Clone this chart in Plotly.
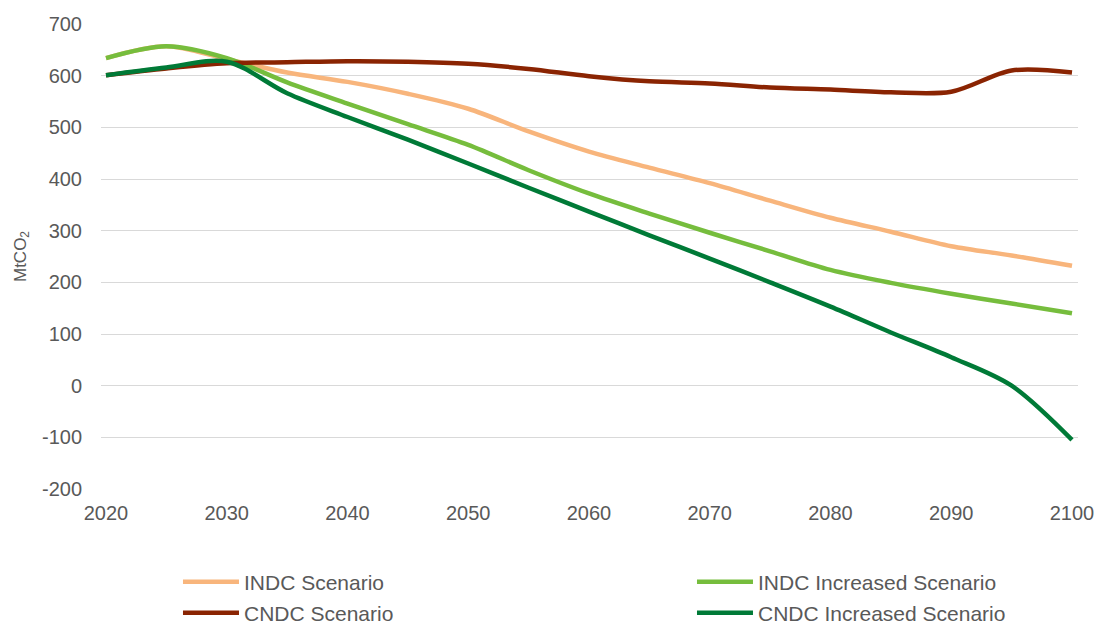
import plotly.graph_objects as go

# Emission pathways, MtCO2, in five-year steps
years = [2020, 2025, 2030, 2035, 2040, 2045, 2050, 2055, 2060,
         2065, 2070, 2075, 2080, 2085, 2090, 2095, 2100]

indc = [634, 657, 632, 606, 588, 565, 536, 492, 453,
        422, 392, 358, 325, 298, 270, 252, 232]
indc_increased = [634, 657, 634, 587, 546, 506, 466, 417, 372,
                  333, 296, 260, 224, 199, 178, 159, 140]
cndc = [601, 614, 624, 626, 628, 627, 623, 613, 599,
        589, 585, 577, 573, 568, 569, 610, 606]
cndc_increased = [601, 616, 627, 566, 520, 476, 430, 383, 337,
                  291, 246, 200, 153, 103, 55, 0, -105]

series_names = ["INDC Scenario", "INDC Increased Scenario",
                "CNDC Scenario", "CNDC Increased Scenario"]
series_values = [indc, indc_increased, cndc, cndc_increased]
series_colors = ["#F8B57C", "#76BD3D", "#8A2402", "#007A37"]

x_ticks = [2020, 2030, 2040, 2050, 2060, 2070, 2080, 2090, 2100]
y_ticks = [-200, -100, 0, 100, 200, 300, 400, 500, 600, 700]
y_tick_text = [str(v) for v in y_ticks]

FONT = "Liberation Sans, Arial, sans-serif"
GREY = "#595959"

# one legend box per entry, laid out as a 2 x 2 grid under the plot
legend_ids = ["legend", "legend2", "legend3", "legend4"]
legend_x = [0.0788, 0.6049, 0.0788, 0.6049]
legend_y = [-0.200, -0.200, -0.267, -0.267]

fig = go.Figure()
for name, vals, col, lg in zip(series_names, series_values, series_colors, legend_ids):
    fig.add_trace(go.Scatter(
        x=years, y=vals, name=name, mode="lines",
        line=dict(color=col, width=4.5, shape="spline", smoothing=0.9),
        legend=lg,
    ))

legend_layout = {}
for lg, lx, ly in zip(legend_ids, legend_x, legend_y):
    legend_layout[lg] = dict(
        orientation="h", xanchor="left", yanchor="middle",
        x=lx, y=ly, itemwidth=56,
        font=dict(family=FONT, size=21, color=GREY),
        bgcolor="rgba(0,0,0,0)", borderwidth=0,
    )

fig.update_layout(
    width=1097, height=623,
    margin=dict(l=101, r=19, t=24, b=134, autoexpand=False),
    paper_bgcolor="white", plot_bgcolor="white",
    font=dict(family=FONT, color=GREY),
    showlegend=True,
    **legend_layout,
    xaxis=dict(
        range=[2019.586, 2100.497], tickvals=x_ticks,
        showgrid=False, zeroline=False, showline=False,
        ticks="", ticklabelstandoff=10,
        tickfont=dict(family=FONT, size=20, color=GREY),
    ),
    yaxis=dict(
        range=[-200, 700], tickvals=y_ticks, ticktext=y_tick_text,
        showgrid=True, gridcolor="#D9D9D9", gridwidth=1,
        zeroline=False, showline=False, ticks="",
        ticklabelstandoff=18,
        tickfont=dict(family=FONT, size=20, color=GREY),
        title=dict(text="MtCO<sub>2</sub>", standoff=11,
                   font=dict(family=FONT, size=17, color=GREY)),
    ),
)

fig.write_html("out.html")
